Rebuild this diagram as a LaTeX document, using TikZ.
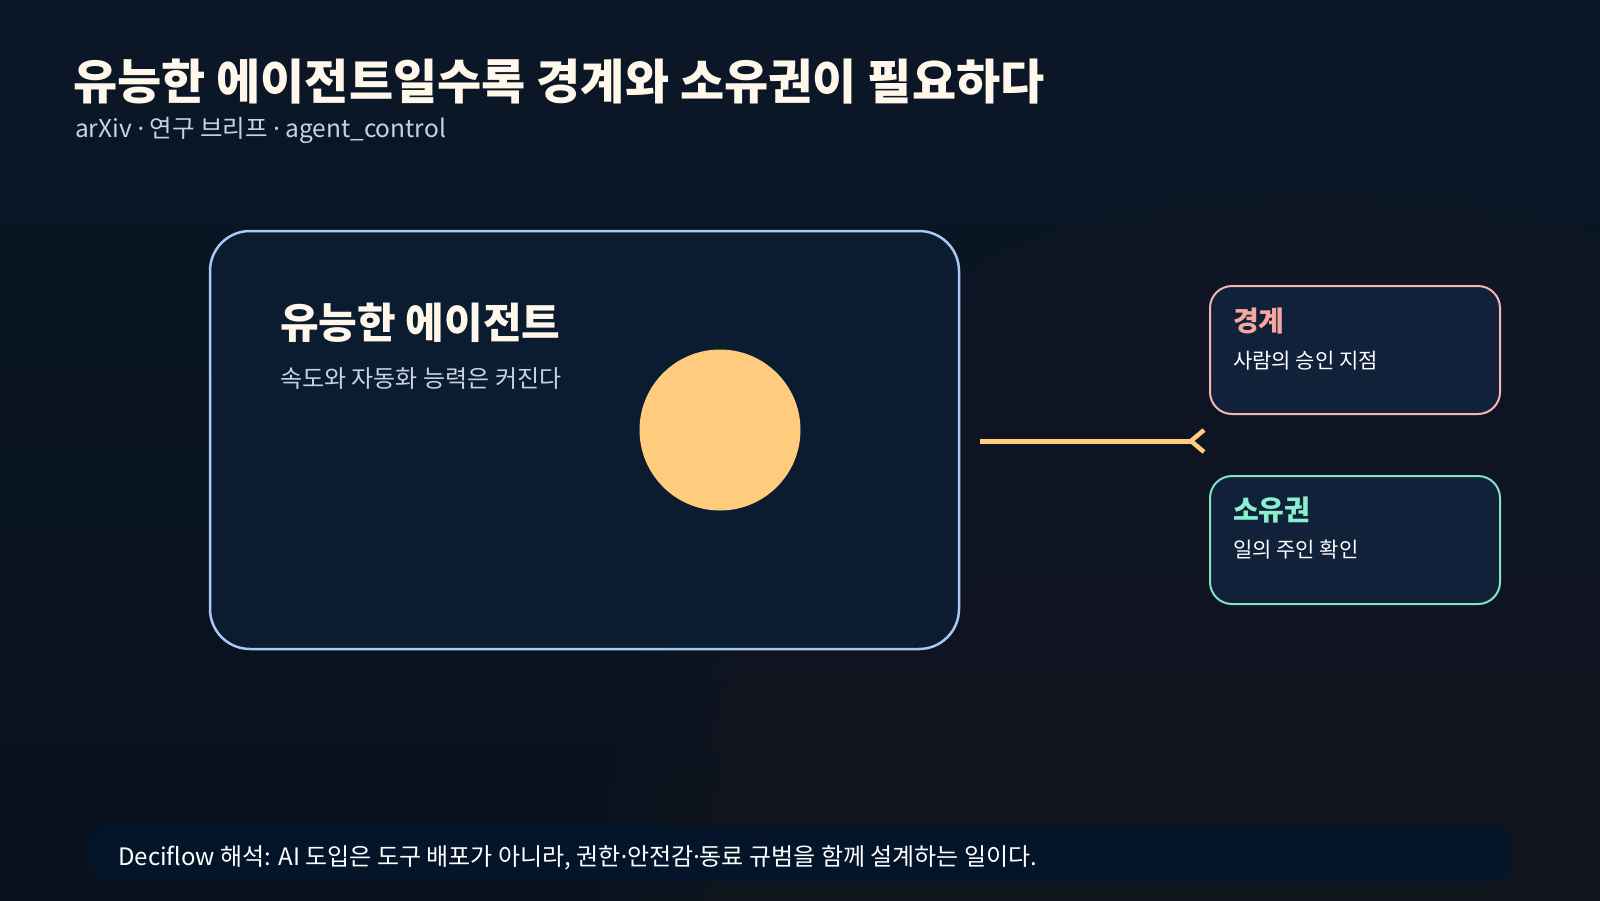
\documentclass[tikz,border=0pt]{standalone}
\usepackage{fontspec}
\setmainfont{Noto Sans CJK KR}
\newfontfamily\latinfont{Noto Sans}
\newcommand{\mdot}{{\latinfont ·}}
\usetikzlibrary{calc}
\definecolor{bgtop}{HTML}{0B1727}
\definecolor{bgbot}{HTML}{08111D}
\definecolor{glowin}{HTML}{181D25}
\definecolor{boxfill}{HTML}{0B1B30}
\definecolor{boxline}{HTML}{A9C9F5}
\definecolor{sidefill}{HTML}{11213A}
\definecolor{pinkline}{HTML}{F2B8B0}
\definecolor{pinktxt}{HTML}{F6A69E}
\definecolor{mintline}{HTML}{7FE3C4}
\definecolor{minttxt}{HTML}{8AF0CF}
\definecolor{sun}{HTML}{FFCB7D}
\definecolor{cream}{HTML}{FFF7EA}
\definecolor{subgrey}{HTML}{C6D3E3}
\definecolor{barfill}{HTML}{04152A}
\begin{document}
\begin{tikzpicture}[x=1pt,y=-1pt,
  txt/.style={inner sep=0pt, anchor=base west},
  bigbox/.style={draw=boxline, line width=2.5pt, fill=boxfill, rounded corners=40pt},
  sidebox/.style={line width=2pt, fill=sidefill, rounded corners=22pt},
  conn/.style={draw=sun, line width=5pt}]
\useasboundingbox (0,0) rectangle (1600,900);
\shade[top color=bgtop, bottom color=bgbot] (0,0) rectangle (1600,900);
\begin{scope}
\clip (0,0) rectangle (1600,900);
\coordinate (glowc) at (1320,900);
\foreach \i in {1,...,40}{
  \fill[glowin, fill opacity=0.1] (glowc) circle (18*\i);
}
\end{scope}
% title
\node[txt, text=cream, font=\fontsize{48}{54}\selectfont\bfseries] (title) at (73,99) {유능한 에이전트일수록 경계와 소유권이 필요하다};
\node[txt, text=subgrey, font=\fontsize{24.5}{28}\selectfont] (sub) at (75,137) {arXiv \mdot{} 연구 브리프 \mdot{} agent\_control};
% big box
\draw[bigbox] (210,231) rectangle (959,649);
\coordinate (bigE) at (959,441);
\node[txt, text=cream, font=\fontsize{42}{48}\selectfont\bfseries] (bt) at (280,338) {유능한 에이전트};
\node[txt, text=subgrey, font=\fontsize{24}{28}\selectfont] (bs) at (280,387) {속도와 자동화 능력은 커진다};
\node[circle, fill=sun, minimum size=161pt, inner sep=0pt] (sunc) at (720,430) {};
% side boxes
\draw[sidebox, draw=pinkline] (1210,286) rectangle (1500,414);
\node[txt, text=pinktxt, font=\fontsize{28}{32}\selectfont\bfseries] (b1t) at (1233,331) {경계};
\node[txt, text=white, font=\fontsize{21}{25}\selectfont] (b1s) at (1233,368) {사람의 승인 지점};
\draw[sidebox, draw=mintline] (1210,476) rectangle (1500,604);
\node[txt, text=minttxt, font=\fontsize{28}{32}\selectfont\bfseries] (b2t) at (1233,520) {소유권};
\node[txt, text=white, font=\fontsize{21}{25}\selectfont] (b2s) at (1233,557.5) {일의 주인 확인};
% connector
\coordinate (tipv) at (1191,441);
\coordinate (armA) at (1204,430);
\coordinate (armB) at (1204,452);
\draw[conn] ($(bigE)+(21,0)$) -- (tipv);
\draw[conn, line width=4.5pt] (armA) -- (tipv) -- (armB);
% bottom bar
\fill[barfill, rounded corners=18pt] (90,826) rectangle (1510,882);
\node[txt, text=white, font=\fontsize{24}{28}\selectfont] (foot) at (118,865) {Deciflow 해석: AI 도입은 도구 배포가 아니라, 권한\mdot 안전감\mdot 동료 규범을 함께 설계하는 일이다.};
\end{tikzpicture}
\end{document}
